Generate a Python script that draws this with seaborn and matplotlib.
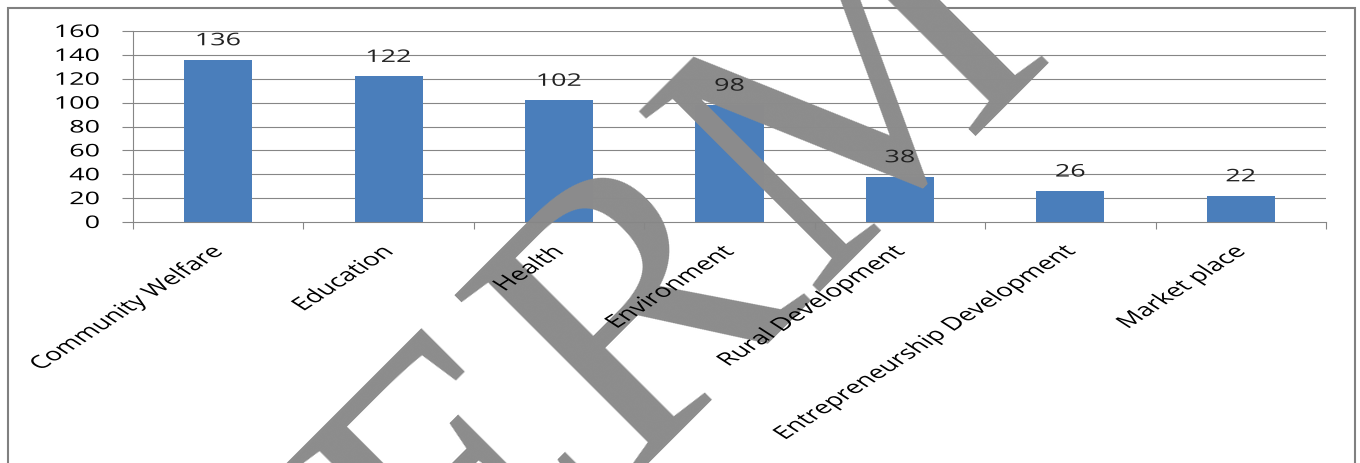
import numpy as np
import pandas as pd
import matplotlib
matplotlib.use("Agg")
import matplotlib.pyplot as plt
import matplotlib.patches as mpatches
from matplotlib.patheffects import AbstractPathEffect
from matplotlib.transforms import Affine2D, ScaledTranslation
import seaborn as sns

# ---- data ----
categories = ["Community Welfare", "Education", "Health", "Environment",
              "Rural Development", "Entrepreneurship Development", "Market place"]
counts = [136, 122, 102, 98, 38, 26, 22]
y_ticks = [0, 20, 40, 60, 80, 100, 120, 140, 160]
watermark = "TERM"

BAR = "#4a7ebb"
GRID = "#868686"
W, H = 1360, 464


class HStretch(AbstractPathEffect):
    """Stretch drawn text horizontally (display space) about a pivot."""

    def __init__(self, sx, fx, fy):
        super().__init__((0.0, 0.0))
        self.sx, self.fx, self.fy = sx, fx, fy

    def draw_path(self, renderer, gc, tpath, affine, rgbFace=None):
        ext = tpath.get_extents()
        px = ext.x0 + self.fx * (ext.x1 - ext.x0)
        py = ext.y0 + self.fy * (ext.y1 - ext.y0)
        ax_, ay_ = affine.transform((px, py))
        post = Affine2D().translate(-ax_, -ay_).scale(self.sx, 1).translate(ax_, ay_)
        renderer.draw_path(gc, tpath, affine + post, rgbFace)


sns.set_theme(style="white")
plt.rcParams["font.family"] = ["Open Sans", "DejaVu Sans"]

fig = plt.figure(figsize=(W / 100, H / 100), dpi=100)
fig.patch.set_facecolor("white")
ax = fig.add_axes([133 / W, 1 - 223 / H, (1326 - 133) / W, (223 - 32) / H])
ax.set_facecolor("white")

df = pd.DataFrame({"category": categories, "count": counts})
sns.barplot(data=df, x="category", y="count", color=BAR, saturation=1,
            width=0.4, linewidth=0, ax=ax, zorder=1)

ax.set_xlim(-0.5, len(categories) - 0.5)
ax.set_ylim(y_ticks[0], y_ticks[-1])
ax.set_xlabel("")
ax.set_ylabel("")
ax.grid(False)
for v in y_ticks[1:]:
    ax.axhline(v, color=GRID, lw=0.8, zorder=0.5)

for s in ["top", "right"]:
    ax.spines[s].set_visible(False)
for s in ["left", "bottom"]:
    ax.spines[s].set_color(GRID)
    ax.spines[s].set_linewidth(0.8)

ax.set_yticks(y_ticks)
ax.set_yticklabels([str(v) for v in y_ticks])
ax.set_xticks(range(len(categories)))
ax.set_xticklabels(categories, rotation=45, ha="right", va="top",
                   rotation_mode="anchor")
ax.set_xticks(np.arange(-0.5, len(categories), 1), minor=True)

ax.tick_params(axis="y", which="major", left=True, length=8, width=0.8,
               color=GRID, pad=16, labelsize=12.5, labelcolor="black")
ax.tick_params(axis="x", which="major", bottom=True, length=0, pad=15,
               labelsize=13, labelcolor="black")
ax.tick_params(axis="x", which="minor", bottom=True, length=5, width=0.8,
               color=GRID)
ax.set_axisbelow(False)

for t in ax.get_yticklabels():
    t.set_path_effects([HStretch(1.55, 1.0, 0.5)])
xoff = ScaledTranslation(-10 / 100, 0, fig.dpi_scale_trans)
for t in ax.get_xticklabels():
    t.set_path_effects([HStretch(1.55, 1.0, 1.0)])
    t.set_transform(t.get_transform() + xoff)

for i, v in enumerate(counts):
    ax.annotate(str(v), (i, v), xytext=(0, 7.5), textcoords="offset points",
                ha="center", va="bottom", fontsize=12.5, color="#222222",
                path_effects=[HStretch(1.55, 0.5, 0.0)], zorder=5)

# watermark
ax.text(289 / W, 1 - 816 / H, watermark, transform=fig.transFigure,
        rotation=45, rotation_mode="anchor", ha="left", va="baseline",
        fontsize=281, family="Liberation Serif", color="#8c8c8c",
        zorder=2.2, clip_on=False)

# chart frame
fig.patches.append(mpatches.Rectangle((8 / W, -0.2), (1355 - 8) / W,
                                      1.2 - 9 / H, transform=fig.transFigure,
                                      fill=False, edgecolor="#808080", lw=1.5,
                                      zorder=-1))

fig.savefig("out.png", dpi=100)
